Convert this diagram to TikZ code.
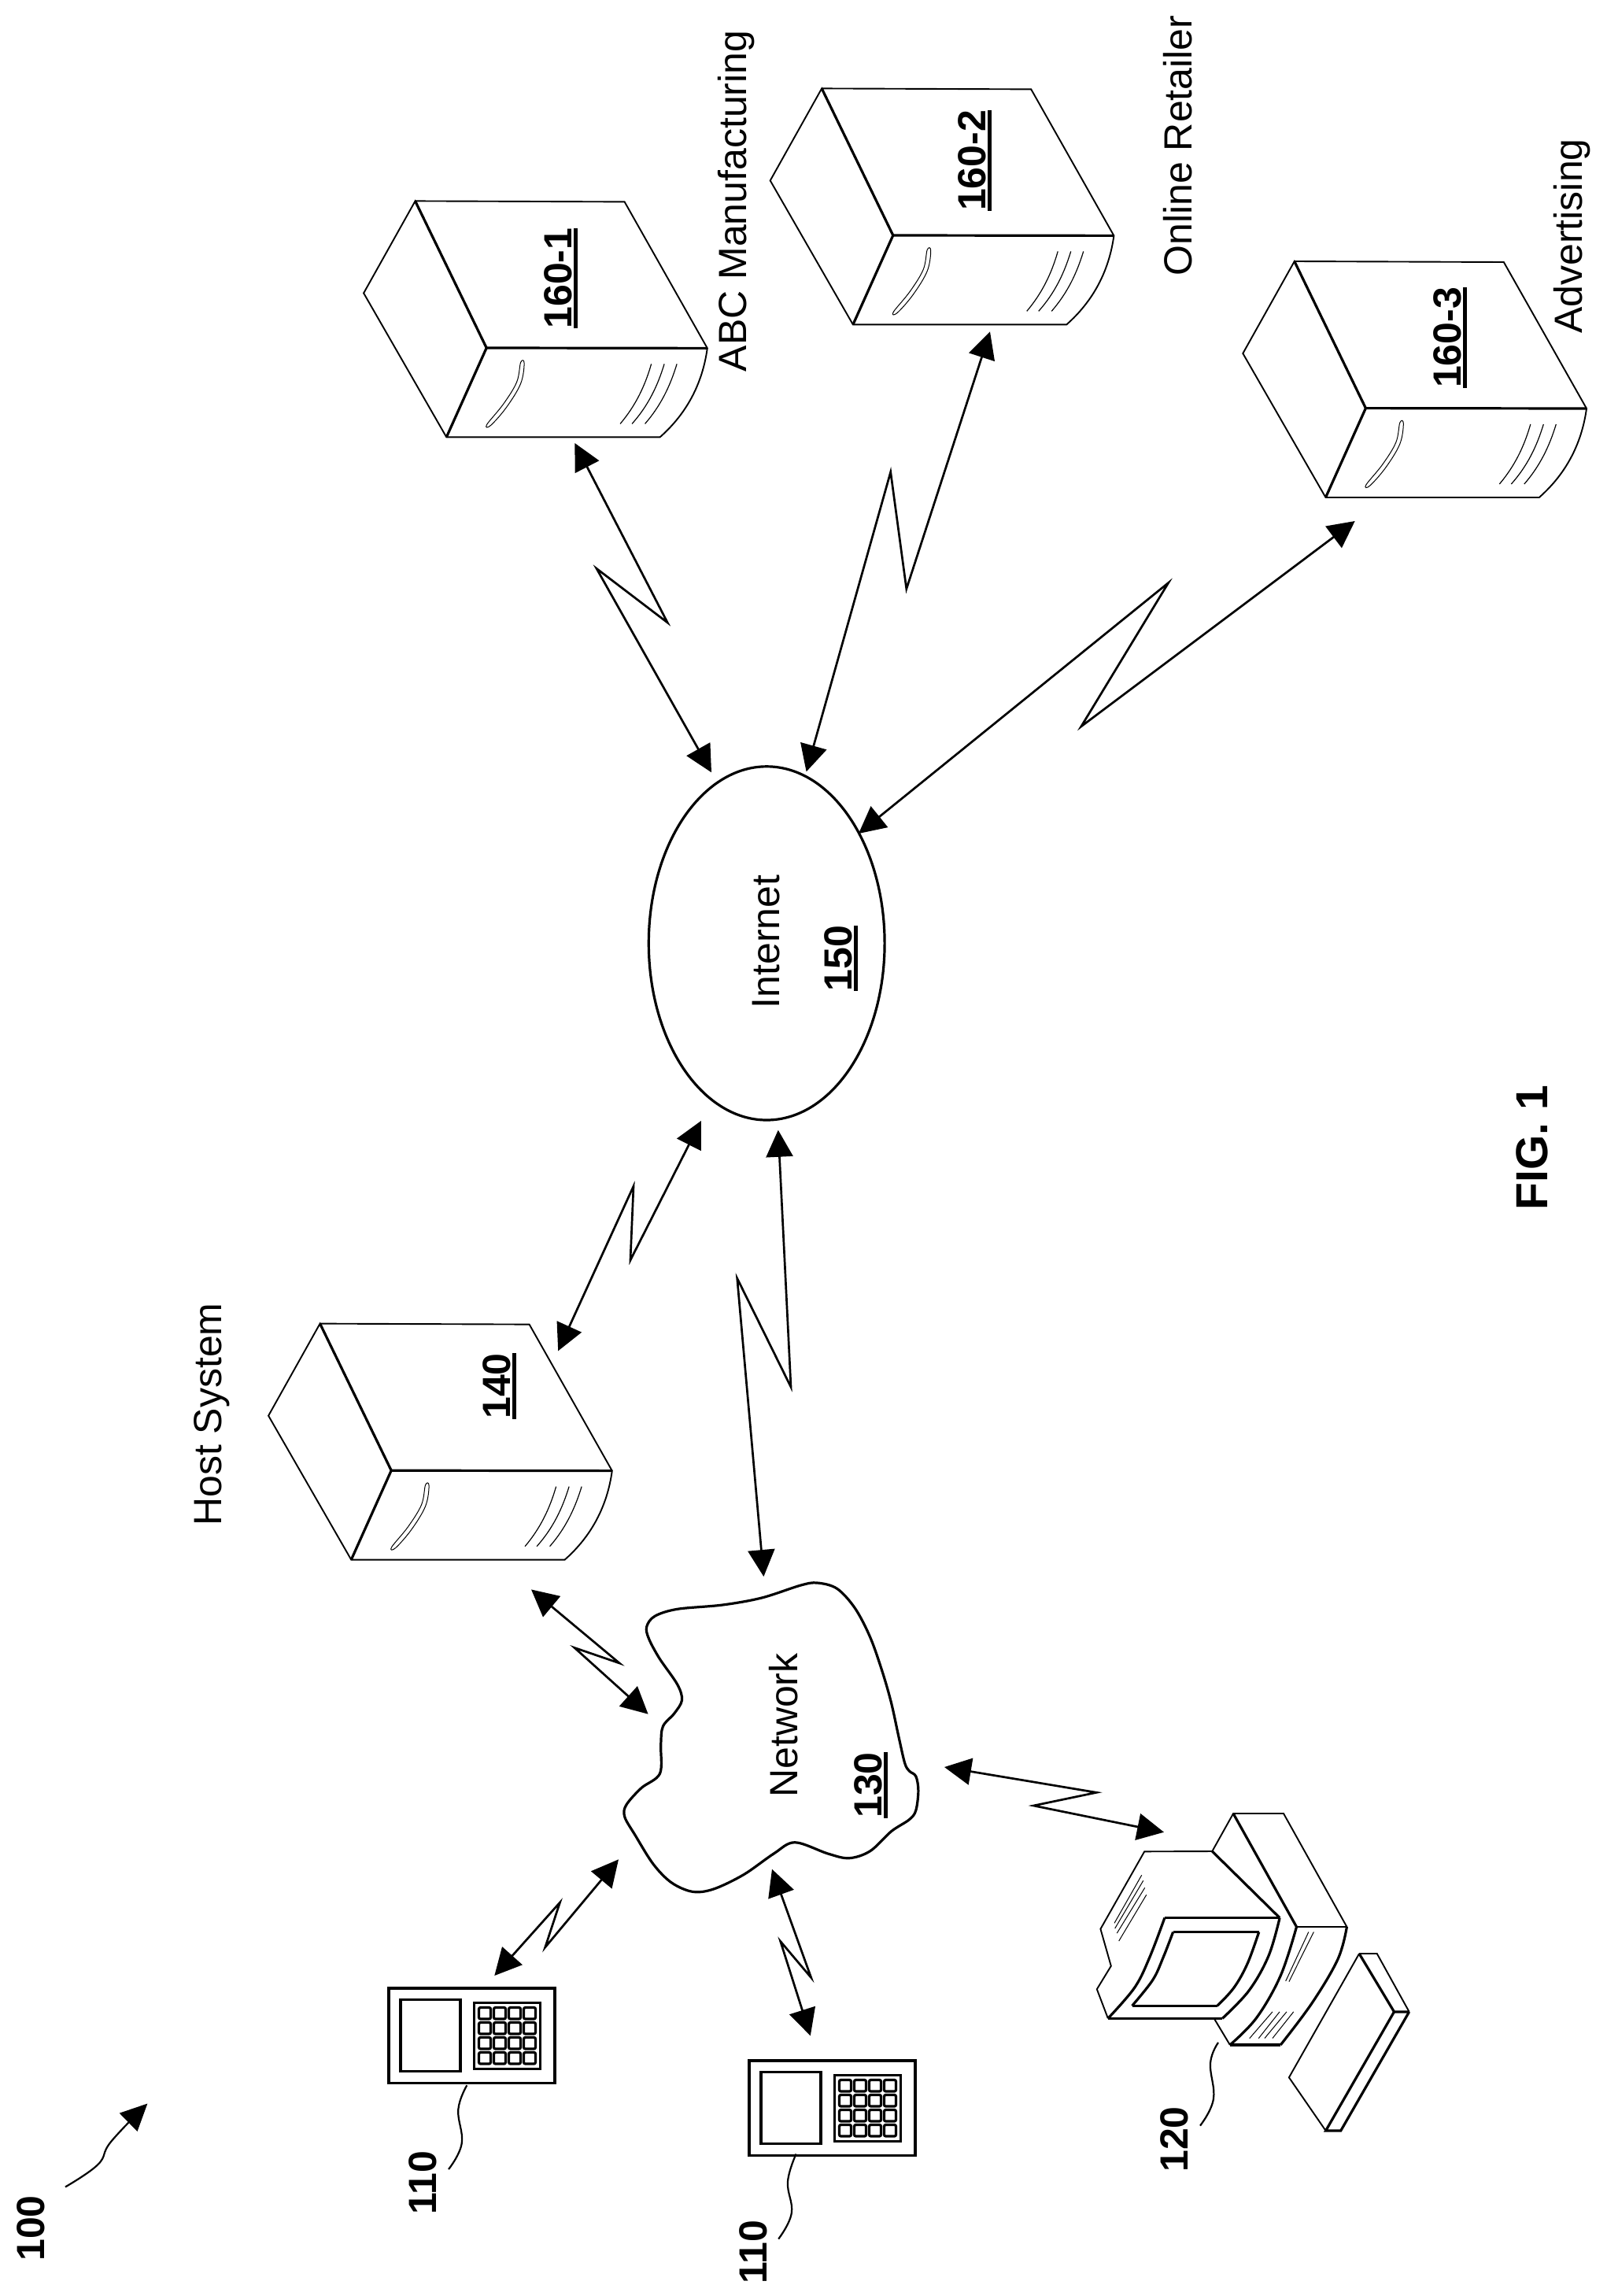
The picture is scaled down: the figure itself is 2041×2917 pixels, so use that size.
\documentclass[tikz,border=0pt]{standalone}
\usepackage{fontspec}
\setmainfont{Liberation Sans}
\usetikzlibrary{arrows.meta,shapes.geometric}
\newcommand\reflabel[1]{\setbox0\hbox{#1}\rlap{\rule[-3.8pt]{\wd0}{2.4pt}}\box0}
\tikzset{
  thinline/.style={line width=0.95pt},
  thickline/.style={line width=1.6pt},
  hair/.style={line width=0.5pt},
  link/.style={line width=1.35pt,{Triangle[length=17pt,width=17pt]}-{Triangle[length=17pt,width=17pt]}},
  leader/.style={line width=1.1pt},
  caption/.style={rotate=90,anchor=base,inner sep=0pt,font=\fontsize{25}{30}\selectfont},
  refnum/.style={rotate=90,anchor=base,inner sep=0pt,font=\fontsize{25}{30}\selectfont\bfseries},
  server/.pic={
    \draw[thinline] (90.6,186.6) -- (0,0) -- (-65.5,117) -- (39.7,300) -- (311,300)
       .. controls (345,270) and (365,232) .. (371.2,187) -- (266,1) -- (0,0);
    \draw[thickline] (0,0) -- (90.6,186.6) -- (39.7,300);
    \draw[thickline] (90.6,186.6) -- (371.2,187);
    \draw[hair] plot[smooth cycle,tension=0.6] coordinates {(134,205) (138.5,206) (134,232) (116,262) (96,285) (91,284) (112,258) (129,230)};
    \draw[line width=0.6pt] (300,207) .. controls (292,235) and (280,260) .. (260.5,283);
    \draw[line width=0.6pt] (316.5,207) .. controls (308,235) and (296,260) .. (275.5,283);
    \draw[line width=0.6pt] (332.5,207) .. controls (324,235) and (312,260) .. (292,283);
  },
  handheld/.pic={
    \draw[thickline] (0,0) rectangle (211,120.5);
    \draw[thickline] (15,14.5) rectangle (91,105.5);
    \draw[thickline] (108.5,18.5) rectangle (192.5,102.5);
    \foreach \i in {0,1,2,3}{\foreach \j in {0,1,2,3}{
      \draw[thickline,rounded corners=1pt] (114.5+19*\i,24.5+19*\j) rectangle ++(15,14.5);
    }}
  }
}
\begin{document}
\begin{tikzpicture}[x=0.5pt,y=-0.5pt]
\useasboundingbox (0,0) rectangle (2041,2917);
\fill[white] (0,0) rectangle (2041,2917);

% servers
\pic (srvA) at (527.6,255.4) {server};
\pic (srvB) at (1044.2,112.4) {server};
\pic (srvC) at (1644.8,332) {server};
\pic (srvH) at (406.6,1681.6) {server};

\node[refnum] (lblA) at (726.5,353.5) {\reflabel{160-1}};
\node[refnum] (lblB) at (1252,204) {\reflabel{160-2}};
\node[refnum] (lblC) at (1856,429) {\reflabel{160-3}};
\node[refnum] (lblH) at (648,1761) {\reflabel{140}};

\node[caption] (capA) at (948.5,255.5) {ABC Manufacturing};
\node[caption] (capB) at (1514.6,185) {Online Retailer};
\node[caption] (capC) at (2010.6,300) {Advertising};
\node[caption] (capH) at (281,1797) {Host System};

% internet
\node[ellipse,draw,thickline,minimum width=149.9pt,minimum height=224.6pt,inner sep=0pt] (internet) at (974.2,1198.4) {};
\node[caption] (internetTxt) at (990.8,1196.6) {Internet};
\node[refnum] (internetNum) at (1082.5,1217.5) {\reflabel{150}};

% network
\draw[thickline] plot[smooth cycle,tension=0.55] coordinates {
(1038.7,2011) (1063.6,2018.3) (1086.5,2043.3) (1105.7,2080) (1121,2123.3) (1132.5,2163.3)
(1142,2206.7) (1149.7,2240) (1155.4,2250) (1163.8,2256.7) (1166.9,2275) (1163.8,2300)
(1155.4,2311.7) (1132.5,2326.7) (1105.7,2351.7) (1078.9,2360.7) (1052,2355) (1010,2340.7)
(983.2,2355) (944.9,2381.7) (906.7,2400) (879.9,2403.3) (853.1,2391.7) (830.1,2368.3)
(807.2,2331.7) (793.8,2308.3) (795.7,2293.3) (814.8,2271.7) (838.5,2253.3) (839.7,2216.7)
(842.4,2193.3) (856.9,2176.7) (866.5,2160) (860.7,2140) (837.8,2106.7) (824.4,2081.7)
(821.7,2066.7) (832,2053.3) (860.7,2044.3) (918.1,2039) (967.9,2030) (1017.6,2014)};
\node[caption] (networkTxt) at (1013,2192) {Network};
\node[refnum] (networkNum) at (1120.2,2268) {\reflabel{130}};

% connector ends
\coordinate (a1) at (730.4,563);   \coordinate (a2) at (848.2,791);   \coordinate (a3) at (758,722.3);   \coordinate (a4) at (904,981.3);
\coordinate (b1) at (1258,421.4);  \coordinate (b2) at (1151.8,748.2); \coordinate (b3) at (1131.7,599.6); \coordinate (b4) at (1024.6,980.4);
\coordinate (c1) at (1721.7,662);  \coordinate (c2) at (1373.8,923);  \coordinate (c3) at (1484.7,740.4); \coordinate (c4) at (1091,1059);
\coordinate (h1) at (890.8,1424);  \coordinate (h2) at (801,1601);    \coordinate (h3) at (805,1507);    \coordinate (h4) at (709.2,1716.3);
\coordinate (n1) at (988.8,1435.7); \coordinate (n2) at (1005,1762.2); \coordinate (n3) at (936.7,1624); \coordinate (n4) at (970.4,2003);
\coordinate (g1) at (675,2019.4);  \coordinate (g2) at (787.2,2113);  \coordinate (g3) at (730,2093.4);  \coordinate (g4) at (823.6,2177.7);
\coordinate (k1) at (1200,2245);   \coordinate (k2) at (1393.3,2277.3); \coordinate (k3) at (1313.3,2294); \coordinate (k4) at (1479,2327.7);
\coordinate (p1) at (786,2362.3);  \coordinate (p2) at (692.7,2474);  \coordinate (p3) at (711.5,2417);  \coordinate (p4) at (628.3,2510);
\coordinate (q1) at (981,2374.7);  \coordinate (q2) at (1030.7,2512.5); \coordinate (q3) at (991.7,2466.4); \coordinate (q4) at (1029.8,2586.4);

\foreach \n in {a,b,c,h,n,g,k,p,q}{
  \draw[link] (\n1) -- (\n2) -- (\n3) -- (\n4);
}

% handheld devices
\pic (devA) at (494,2526) {handheld};
\pic (devB) at (952,2618) {handheld};
\node[refnum] (lblDevA) at (554,2773) {110};
\node[refnum] (lblDevB) at (974.4,2861) {110};
\draw[leader] plot[smooth,tension=0.7] coordinates {(593.3,2649.3) (582.3,2680) (586.7,2723.3) (570,2756)};
\draw[leader] plot[smooth,tension=0.7] coordinates {(1011.6,2736.5) (1001,2771.8) (1005.8,2811.8) (989.2,2844.5)};

% system reference
\node[refnum] (lblSys) at (56.4,2831) {100};
\draw[leader,-{Triangle[length=17pt,width=16pt]}] plot[smooth,tension=0.7] coordinates {(83,2778.4) (124.4,2750) (141,2721) (187.4,2672.5)};

% computer
\draw[thinline] (1540.3,2352) -- (1567.1,2304) -- (1631,2304) -- (1711.4,2448) -- (1647.5,2448);
\draw[thickline] (1567.1,2304) -- (1647.5,2448);
\draw[thickline] plot[smooth,tension=0.6] coordinates {(1647.5,2448) (1627.2,2510) (1596.6,2563.6) (1562.9,2598)};
\draw[thickline] plot[smooth,tension=0.6] coordinates {(1711.4,2448) (1700,2489) (1667.4,2544.4) (1627.2,2598)};
\draw[thickline] (1627.2,2598) -- (1562.9,2598);
\draw[thinline] (1562.9,2598) -- (1543.4,2565.5);
\draw[hair] (1662.8,2454.5) -- (1633.7,2516.9);
\draw[hair] (1669.3,2454.5) -- (1637.9,2517.6);
\draw[hair] (1616.9,2555.9) -- (1587.8,2589.6);
\draw[hair] (1626,2555.9) -- (1599.3,2589.6);
\draw[hair] (1634.9,2555.9) -- (1606.9,2589.6);
\draw[hair] (1643.7,2555.9) -- (1616.9,2589.6);
% monitor
\draw[thickline] (1540.3,2352) -- (1626.1,2436.5);
\draw[thinline] (1540.3,2352) -- (1454.2,2352.3) -- (1398.4,2450.7) -- (1411.8,2497.7) -- (1393.8,2527.2) -- (1407.9,2564.3);
\draw[thickline] (1479.9,2436.5) -- (1626.1,2436.5);
\draw[thickline] plot[smooth,tension=0.6] coordinates {(1626.1,2436.5) (1611.9,2485) (1587,2529) (1553.3,2564.3)};
\draw[thickline] (1553.3,2564.3) -- (1407.9,2564.3);
\draw[thickline] plot[smooth,tension=0.6] coordinates {(1407.9,2564.3) (1441.6,2525.3) (1460.7,2487) (1479.9,2436.5)};
\draw[thickline] (1490.6,2454.5) -- (1599.7,2454.5);
\draw[thickline] plot[smooth,tension=0.6] coordinates {(1599.7,2454.5) (1585.1,2494.7) (1567.9,2525.3) (1546.8,2548.3)};
\draw[thickline] (1546.8,2548.3) -- (1438.5,2548.3);
\draw[thickline] plot[smooth,tension=0.6] coordinates {(1438.5,2548.3) (1464.6,2515.7) (1478,2487) (1490.6,2454.5)};
\draw[hair] (1450.7,2382.3) -- (1416,2443.3);
\draw[hair] (1452.7,2389.3) -- (1416.7,2450);
\draw[hair] (1454.7,2398.3) -- (1419.3,2456);
\draw[hair] (1456.7,2407.3) -- (1421.7,2466);
% keyboard
\draw[thinline] (1727.1,2482) -- (1749.7,2482) -- (1790.6,2555.9);
\draw[thickline] (1727.1,2482) -- (1771.5,2555.9) -- (1790.6,2555.9);
\draw[thickline] (1771.5,2555.9) -- (1684.6,2707) -- (1703.7,2707) -- (1790.6,2555.9);
\draw[thinline] (1727.1,2482) -- (1637.9,2639.3) -- (1684.6,2707);
\draw[leader] plot[smooth,tension=0.7] coordinates {(1548,2595) (1538,2621) (1541.9,2666.9) (1525,2700.6)};
\node[refnum] (lblComp) at (1509.7,2718) {120};

\node[rotate=90,anchor=base,inner sep=0pt,font=\fontsize{28.5}{34}\selectfont\bfseries] (fig) at (1966.7,1458) {FIG. 1};
\end{tikzpicture}
\end{document}
